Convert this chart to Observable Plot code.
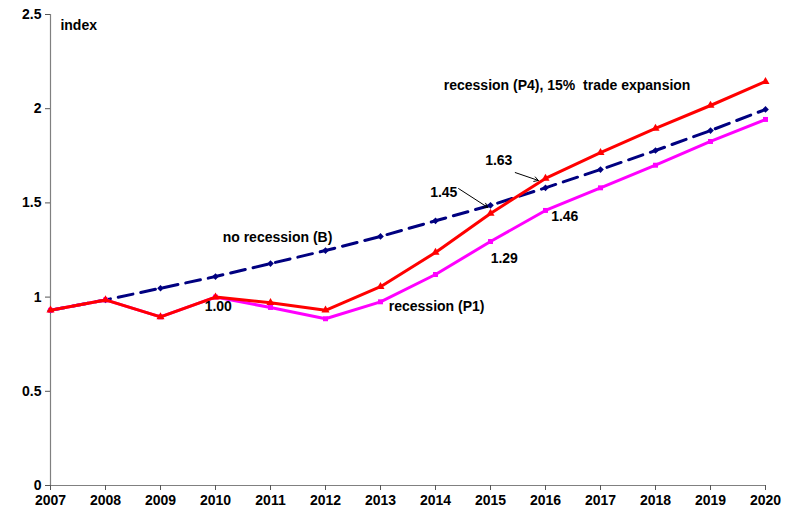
<!DOCTYPE html>
<html>
<head>
<meta charset="utf-8">
<script src="https://cdn.jsdelivr.net/npm/d3@7"></script>
<script src="https://cdn.jsdelivr.net/npm/@observablehq/plot@0.6"></script>
<style>
  html, body { margin: 0; padding: 0; background: #fff; }
  svg { font-family: "Liberation Sans", Arial, sans-serif; }
  svg text { white-space: pre; }
</style>
</head>
<body>
<div id="chart"></div>
<script>
const years = [2007,2008,2009,2010,2011,2012,2013,2014,2015,2016,2017,2018,2019,2020];
const noRecession = [0.93,0.985,1.047,1.109,1.178,1.247,1.322,1.405,1.487,1.580,1.677,1.778,1.884,1.996];
const recessionP4 = [0.93,0.985,0.895,1.00,0.97,0.93,1.055,1.237,1.444,1.630,1.767,1.895,2.017,2.144];
const recessionP1 = [0.93,0.985,0.895,1.00,0.945,0.885,0.975,1.120,1.295,1.460,1.580,1.700,1.826,1.943];
const yTicks = [0, 0.5, 1, 1.5, 2, 2.5];

const labelTexts = ["index", "recession (P4), 15%  trade expansion", "no recession (B)", "recession (P1)"];
const labelX = [2007.18, 2014.15, 2010.13, 2013.15];
const labelY = [2.44, 2.123, 1.316, 0.95];

const valueTexts = ["1.63", "1.45", "1.46", "1.29", "1.00"];
const valueX = [2015.15, 2014.15, 2016.35, 2015.25, 2010.05];
const valueY = [1.725, 1.555, 1.428, 1.205, 0.95];

const arrowX1 = [2015.45, 2014.42];
const arrowY1 = [1.661, 1.576];
const arrowX2 = [2015.87, 2014.95];
const arrowY2 = [1.619, 1.476];

const series = (vals) => years.map((x, i) => ({x, y: vals[i]}));
const B = series(noRecession), P4 = series(recessionP4), P1 = series(recessionP1);
const labels = labelTexts.map((t, i) => ({t, x: labelX[i], y: labelY[i]}));
const values = valueTexts.map((t, i) => ({t, x: valueX[i], y: valueY[i]}));
const arrows = arrowX1.map((x1, i) => ({x1, y1: arrowY1[i], x2: arrowX2[i], y2: arrowY2[i]}));

const FS = 14;
const chart = Plot.plot({
  width: 789,
  height: 515,
  marginLeft: 50,
  marginRight: 24,
  marginTop: 14,
  marginBottom: 30,
  style: {fontFamily: "'Liberation Sans', Arial, sans-serif", fontSize: FS + "px", fontWeight: "bold", color: "#000", background: "#fff"},
  x: {domain: [2007, 2020], ticks: years, tickFormat: d => String(d), label: null},
  y: {domain: [0, 2.5], ticks: yTicks, tickFormat: d => String(d), label: null},
  marks: [
    Plot.ruleX([2007], {stroke: "#808080", strokeWidth: 1.2}),
    Plot.ruleY([0], {stroke: "#808080", strokeWidth: 1.2}),
    Plot.axisX({ticks: years, tickFormat: d => String(d), tickSize: 5, tickPadding: 5, stroke: "#555", fill: "#000", fontWeight: "bold", fontSize: FS, label: null}),
    Plot.axisY({ticks: yTicks, tickFormat: d => String(d), tickSize: 5, tickPadding: 4, stroke: "#555", fill: "#000", fontWeight: "bold", fontSize: FS, label: null}),
    Plot.line(B, {x: "x", y: "y", stroke: "#000080", strokeWidth: 3, strokeDasharray: "15,8"}),
    Plot.dot(B, {x: "x", y: "y", symbol: "diamond2", r: 3, fill: "#000080"}),
    Plot.line(P1, {x: "x", y: "y", stroke: "#ff00ff", strokeWidth: 3}),
    Plot.dot(P1, {x: "x", y: "y", symbol: "square", r: 2.8, fill: "#ff00ff"}),
    Plot.line(P4, {x: "x", y: "y", stroke: "#ff0000", strokeWidth: 3}),
    Plot.dot(P4, {x: "x", y: "y", symbol: "triangle", r: 3, fill: "#ff0000"}),
    Plot.arrow(arrows, {x1: "x1", y1: "y1", x2: "x2", y2: "y2", stroke: "#000", strokeWidth: 1, headLength: 7}),
    Plot.text(labels, {x: "x", y: "y", text: "t", textAnchor: "start", fill: "#000", fontWeight: "bold", fontSize: FS}),
    Plot.text(values, {x: "x", y: "y", text: "t", textAnchor: "middle", fill: "#000", fontWeight: "bold", fontSize: FS})
  ]
});
document.getElementById("chart").appendChild(chart);
</script>
</body>
</html>
